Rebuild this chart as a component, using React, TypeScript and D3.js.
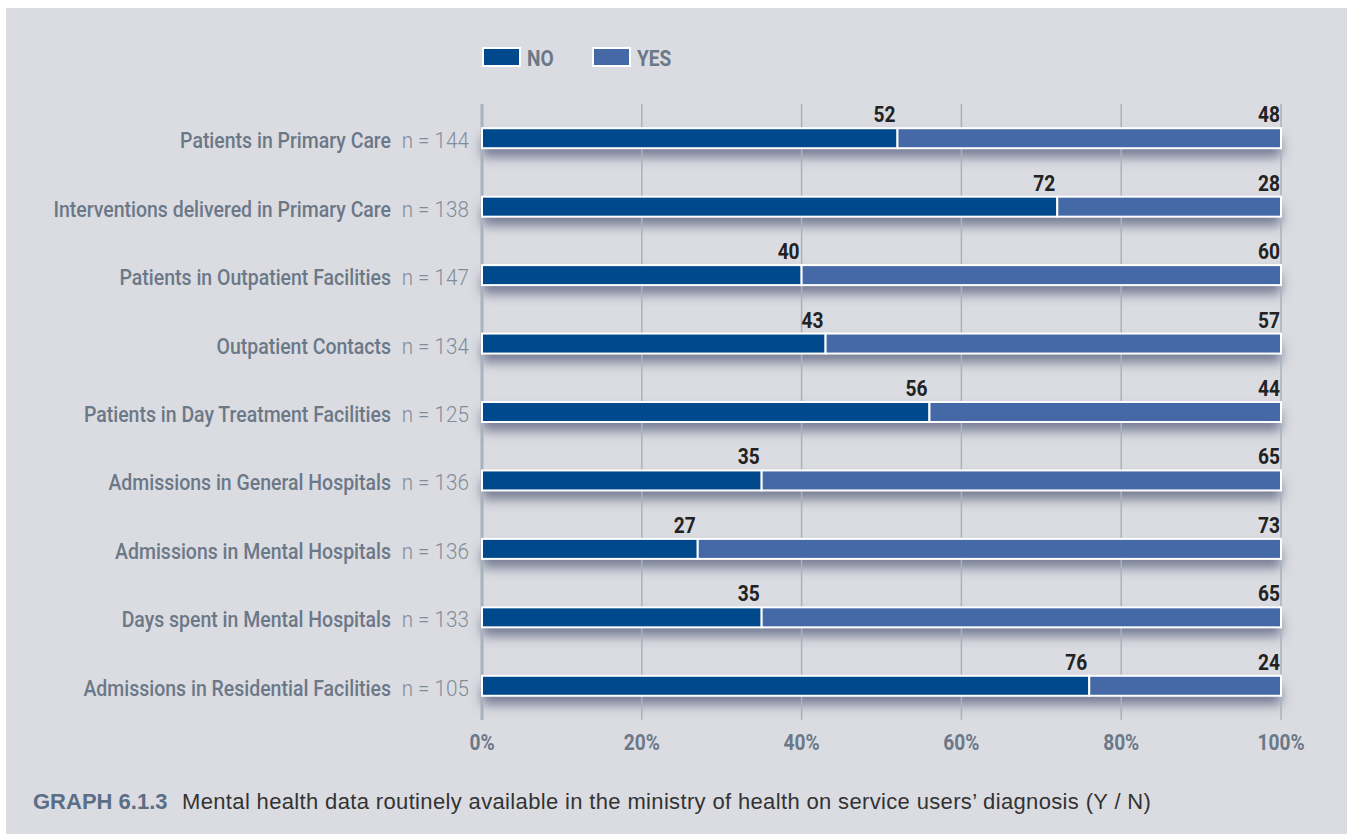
import React from "react";
import * as d3 from "d3";

const categories = [
  "Patients in Primary Care",
  "Interventions delivered in Primary Care",
  "Patients in Outpatient Facilities",
  "Outpatient Contacts",
  "Patients in Day Treatment Facilities",
  "Admissions in General Hospitals",
  "Admissions in Mental Hospitals",
  "Days spent in Mental Hospitals",
  "Admissions in Residential Facilities",
];
const sampleSizes = [144, 138, 147, 134, 125, 136, 136, 133, 105];
const noValues = [52, 72, 40, 43, 56, 35, 27, 35, 76];
const yesValues = [48, 28, 60, 57, 44, 65, 73, 65, 24];
const xTicks = [0, 20, 40, 60, 80, 100];
const seriesNames = ["NO", "YES"];

const W = 1354;
const H = 834;
const COND = "Roboto, 'Liberation Sans', Arial, sans-serif";
const REG = "'Liberation Sans', Arial, Helvetica, sans-serif";
const C_NO = "#00498c";
const C_YES = "#4469a6";
const C_LABEL = "#6b7888";
const C_GRID = "#a8b2bd";

type NProps = {
  x: number;
  y: number;
  anchor?: "start" | "middle" | "end";
  weight?: number;
  size?: number;
  sx?: number;
  fill: string;
  children: React.ReactNode;
};

function NText({ x, y, anchor = "start", weight = 400, size = 22, sx = 0.87, fill, children }: NProps) {
  return (
    <text
      transform={`translate(${x},${y}) scale(${sx},1)`}
      textAnchor={anchor}
      fontFamily={COND}
      fontWeight={weight}
      fontSize={size}
      fill={fill}
    >
      {children}
    </text>
  );
}

export default function App() {
  const x = d3.scaleLinear().domain([0, 100]).range([482, 1281]);
  const y = d3.scaleBand<number>().domain(d3.range(categories.length)).range([104, 720]);
  const barH = 20;

  return (
    <div style={{ position: "absolute", left: 0, top: 0 }}>
      <svg width={W} height={H} style={{ display: "block" }}>
        <defs>
          <filter id="shadow" x="-10%" y="-100%" width="120%" height="400%">
            <feGaussianBlur in="SourceAlpha" stdDeviation="6" />
            <feOffset dx="0" dy="9" result="b" />
            <feFlood floodColor="#4a5373" floodOpacity="0.7" />
            <feComposite in2="b" operator="in" />
          </filter>
        </defs>
        <rect x={0} y={0} width={W} height={H} fill="#ffffff" />
        <rect x={6} y={8} width={1341} height={H - 8} fill="#dbdce1" />

        {/* legend */}
        {seriesNames.map((s, i) => {
          const lx = i === 0 ? 483 : 593;
          return (
            <g key={s}>
              <rect x={lx} y={48} width={37} height={18} fill={i === 0 ? C_NO : C_YES} stroke="#ffffff" strokeWidth={2} />
              <NText x={lx + 44} y={65.5} weight={700} fill={C_LABEL}>
                {s}
              </NText>
            </g>
          );
        })}

        {/* shadows */}
        {categories.map((c, i) => {
          const cy = (y(i) as number) + y.bandwidth() / 2;
          return (
            <rect key={"s" + c} x={x(0)} y={cy - barH / 2} width={x(100) - x(0)} height={barH} fill="#000" filter="url(#shadow)" />
          );
        })}

        {/* grid */}
        {xTicks.map((t) => (
          <line key={t} x1={x(t)} x2={x(t)} y1={104} y2={720} stroke={C_GRID} strokeWidth={t === 0 ? 3 : 1.5} />
        ))}

        {/* bars */}
        {categories.map((c, i) => {
          const cy = (y(i) as number) + y.bandwidth() / 2;
          const top = cy - barH / 2;
          const no = noValues[i];
          const yes = yesValues[i];
          return (
            <g key={c}>
              <rect x={x(0)} y={top} width={x(no) - x(0)} height={barH} fill={C_NO} stroke="#ffffff" strokeWidth={2} />
              <rect x={x(no)} y={top} width={x(no + yes) - x(no)} height={barH} fill={C_YES} stroke="#ffffff" strokeWidth={2} />
              <NText x={x(no) - 2} y={top - 6} anchor="end" weight={700} fill="#222222">
                {no}
              </NText>
              <NText x={x(100) - 1} y={top - 6} anchor="end" weight={700} fill="#222222">
                {yes}
              </NText>
              <NText x={391} y={cy + 10} anchor="end" weight={500} sx={0.885} fill={C_LABEL}>
                {c}
              </NText>
              <NText x={469} y={cy + 10} anchor="end" weight={300} sx={0.94} fill="#808c9b">
                {"n = " + sampleSizes[i]}
              </NText>
            </g>
          );
        })}

        {/* x tick labels */}
        {xTicks.map((t) => (
          <NText key={"t" + t} x={x(t)} y={750} anchor="middle" weight={700} fill={C_LABEL}>
            {t + "%"}
          </NText>
        ))}

        {/* caption */}
        <text x={33} y={809} fontFamily={REG} fontSize={22} fill="#5a6e86" fontWeight="bold">
          GRAPH 6.1.3
        </text>
        <text x={182} y={809} fontFamily={REG} fontSize={22} fill="#333333" letterSpacing={0.35}>
          Mental health data routinely available in the ministry of health on service users’ diagnosis (Y / N)
        </text>
      </svg>
    </div>
  );
}
